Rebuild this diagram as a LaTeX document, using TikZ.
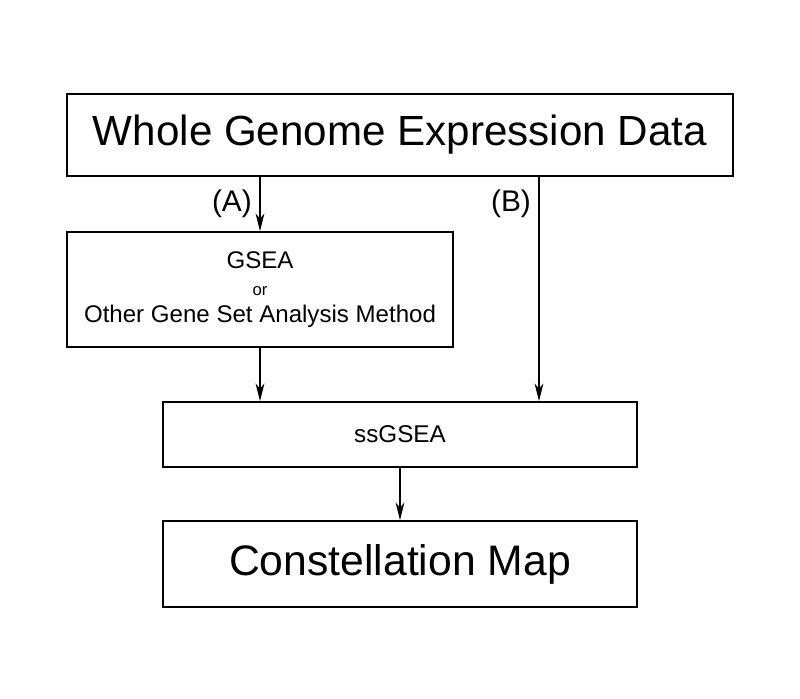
\documentclass[tikz,border=0pt]{standalone}
\usepackage{fontspec}
\setmainfont{Liberation Sans}
\usetikzlibrary{arrows.meta}
\tikzset{
	box/.style={draw, line width=1.1pt, inner sep=0pt, align=center},
	flow/.style={->, line width=0.6pt},
	route/.style={font=\fontsize{17}{19}\selectfont, left, xshift=-1pt},
}
\begin{document}
\begin{tikzpicture}[x=0.02cm, y=-0.02cm, >={Stealth[length=10pt,width=5pt,inset=3pt]}, line join=miter]
		\useasboundingbox (0,0) rectangle (800,698);
		%\draw[color=gray!30] (0,0) grid[step=50] (800,698);
		\node[box, minimum width=13.32cm, minimum height=1.64cm, font=\fontsize{24}{28}\selectfont] (whole) at (400,135) {Whole Genome Expression Data};
		\node[box, minimum width=7.72cm, minimum height=2.3cm, font=\fontsize{13.7}{15}\selectfont] (gsea) at (260,289.5)
			{GSEA\\[0.5pt] {\fontsize{9.5}{10}\selectfont or}\\[0.5pt] Other Gene Set Analysis Method};
		\node[box, minimum width=9.48cm, minimum height=1.3cm, font=\fontsize{13.8}{15}\selectfont] (ssgsea) at (400,434.5) {ssGSEA};
		\node[box, minimum width=9.48cm, minimum height=1.72cm, font=\fontsize{24.3}{28}\selectfont] (map) at (400,564) {Constellation Map};
		% route (B) skips gsea
		\coordinate (bTop) at (whole.south -| 539,0);
		\coordinate (bEnd) at (ssgsea.north -| 539,0);
		\draw[flow] (gsea.north |- whole.south) -- (gsea.north) node[midway, route] {(A)};
		\draw[flow] (bTop) -- (bEnd) node[pos=0.12, route] {(B)};
		\draw[flow] (gsea.south) -- (gsea.south |- ssgsea.north);
		\draw[flow] (ssgsea.south) -- (map.north);
\end{tikzpicture}
\end{document}
